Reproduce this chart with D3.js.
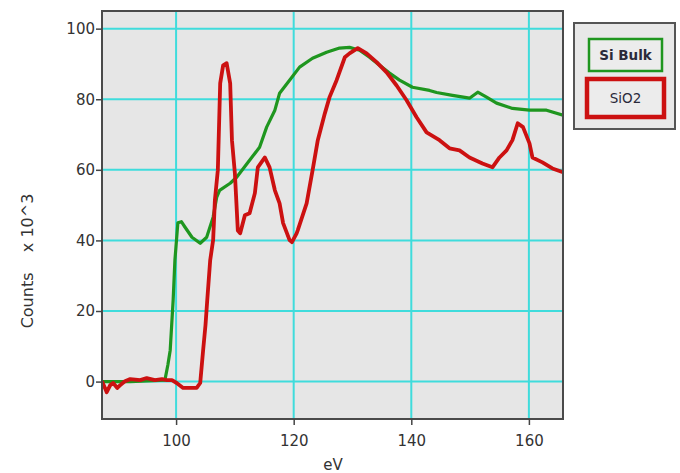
<!DOCTYPE html>
<html><head><meta charset="utf-8">
<script src="https://cdn.jsdelivr.net/npm/d3@7"></script>
<style>body{margin:0;background:#fff;} svg{display:block;}</style>
</head><body>
<svg id="c" width="680" height="473"></svg>
<script>
const seriesNames = ["Si Bulk", "SiO2"];
const seriesColors = ["#1f961f", "#cc1111"];
const xTicks = [100, 120, 140, 160];
const yTicks = [0, 20, 40, 60, 80, 100];

const siBulkEV = [87.4,92.2,98.1,98.6,99.0,99.5,99.8,100.3,100.9,101.5,102.7,104.1,105.2,106.3,106.9,107.4,109.2,110.3,112.5,114.2,115.4,116.8,117.6,119.3,121.0,123.2,125.6,127.8,129.5,131.2,132.9,134.6,136.3,138.0,140.2,143.1,144.3,147.0,149.9,151.3,152.8,154.5,157.2,160.1,163.0,165.8];
const siBulkCounts = [0,0,0.4,4.7,8.9,23.1,34.4,45.0,45.3,43.8,40.9,39.2,40.9,46.6,52.2,54.2,56.2,57.9,62.7,66.4,72.1,76.9,81.7,85.4,89.1,91.6,93.3,94.5,94.7,93.9,91.9,89.6,87.4,85.4,83.4,82.5,81.9,81.1,80.3,82.0,80.6,78.9,77.4,76.9,76.9,75.5];

const sio2EV = [87.4,87.9,88.2,88.8,89.3,90.0,90.5,91.3,92.2,93.9,95.0,96.4,97.6,98.4,99.3,100.1,101.2,102.4,103.5,104.1,104.6,105.0,105.3,105.8,106.3,106.6,107.1,107.5,108.0,108.6,109.2,109.5,110.0,110.5,110.9,111.7,112.5,113.4,113.9,115.1,115.9,116.8,117.6,118.2,119.3,119.7,120.5,120.7,122.2,123.3,124.1,125.3,126.1,127.3,128.7,129.5,130.9,132.4,134.1,135.8,137.5,139.2,140.9,142.6,144.8,146.5,148.2,149.9,152.1,153.8,155.0,156.2,157.2,158.1,159.0,160.1,160.6,162.3,164.0,165.8];
const sio2Counts = [0.1,-1.8,-3.0,-1.0,-0.4,-1.8,-1.0,0.1,0.7,0.4,1.0,0.4,0.7,0.4,0.4,-0.4,-1.8,-1.8,-1.8,-0.4,8.9,16.0,23.1,34.4,40.1,51.4,59.9,84.5,89.6,90.2,84.5,68.4,59.0,42.8,42.0,47.1,47.7,53.4,60.7,63.5,60.7,54.2,50.5,44.9,40.1,39.5,42.0,42.9,50.5,60.7,68.4,76.0,80.6,85.4,91.9,93.0,94.5,93.0,90.5,87.6,83.9,79.7,74.9,70.6,68.4,66.1,65.5,63.5,61.8,60.7,63.5,65.5,68.4,73.2,72.1,67.5,63.5,62.1,60.4,59.3];

const svg = d3.select("#c");
const L = 102, R = 563, T = 11, B = 419;
const x = d3.scaleLinear().domain([87.4, 165.8]).range([L, R]);
const y = d3.scaleLinear().domain([-10.6, 105]).range([B, T]);
const font = "DejaVu Sans, sans-serif";

svg.append("rect").attr("x", L).attr("y", T).attr("width", R - L).attr("height", B - T).attr("fill", "#e6e6e6");

const grid = svg.append("g");
grid.selectAll("line.v").data(xTicks).join("line")
  .attr("x1", d => x(d)).attr("x2", d => x(d)).attr("y1", T).attr("y2", B)
  .attr("stroke", "#3fdcdc").attr("stroke-width", 2);
grid.selectAll("line.h").data(yTicks).join("line")
  .attr("y1", d => y(d)).attr("y2", d => y(d)).attr("x1", L).attr("x2", R)
  .attr("stroke", "#3fdcdc").attr("stroke-width", 2);

svg.append("clipPath").attr("id", "clip").append("rect")
  .attr("x", L).attr("y", T).attr("width", R - L).attr("height", B - T);

const line = d3.line().x(d => x(d[0])).y(d => y(d[1]));
const g = svg.append("g").attr("clip-path", "url(#clip)");
g.append("path").datum(d3.zip(siBulkEV, siBulkCounts)).attr("d", line)
  .attr("fill", "none").attr("stroke", seriesColors[0]).attr("stroke-width", 3.2).attr("stroke-linejoin", "round");
g.append("path").datum(d3.zip(sio2EV, sio2Counts)).attr("d", line)
  .attr("fill", "none").attr("stroke", seriesColors[1]).attr("stroke-width", 3.8).attr("stroke-linejoin", "round");

svg.append("rect").attr("x", L).attr("y", T).attr("width", R - L).attr("height", B - T)
  .attr("fill", "none").attr("stroke", "#4a4a4a").attr("stroke-width", 2);

const xAxis = svg.append("g").attr("transform", `translate(0,${B})`)
  .call(d3.axisBottom(x).tickValues(xTicks).tickSize(6).tickPadding(10).tickFormat(d3.format("d")));
const yAxis = svg.append("g").attr("transform", `translate(${L},0)`)
  .call(d3.axisLeft(y).tickValues(yTicks).tickSize(6).tickPadding(1).tickFormat(d3.format("d")));
[xAxis, yAxis].forEach(a => {
  a.select(".domain").remove();
  a.selectAll(".tick line").attr("stroke", "#444").attr("stroke-width", 1.5);
  a.selectAll(".tick text").attr("font-family", font).attr("font-size", 15).attr("fill", "#333");
});

svg.append("text").attr("x", 333).attr("y", 470).attr("text-anchor", "middle")
  .attr("font-family", font).attr("font-size", 15).attr("fill", "#333").text("eV");
svg.append("text").attr("transform", "translate(33,261) rotate(-90)").attr("text-anchor", "middle")
  .attr("font-family", font).attr("font-size", 16).attr("fill", "#333").attr("xml:space", "preserve")
  .text("Counts    x 10^3");

// legend
const lg = svg.append("g");
lg.append("rect").attr("x", 574).attr("y", 23).attr("width", 101).attr("height", 106)
  .attr("fill", "#e8e8e8").attr("stroke", "#555").attr("stroke-width", 2);
const boxes = [
  {x: 589, y: 39, w: 73, h: 32, sw: 2.5},
  {x: 587, y: 79, w: 77, h: 38, sw: 4.5}
];
seriesNames.forEach((n, i) => {
  const b = boxes[i];
  lg.append("rect").attr("x", b.x).attr("y", b.y).attr("width", b.w).attr("height", b.h)
    .attr("fill", "#ececec").attr("stroke", seriesColors[i]).attr("stroke-width", b.sw);
  lg.append("text").attr("x", b.x + b.w / 2).attr("y", b.y + b.h / 2 + 5).attr("text-anchor", "middle")
    .attr("font-family", font).attr("font-size", 13.5).attr("font-weight", i === 0 ? "bold" : "normal")
    .attr("fill", "#2a2a3a").text(n);
});
</script>
</body></html>
